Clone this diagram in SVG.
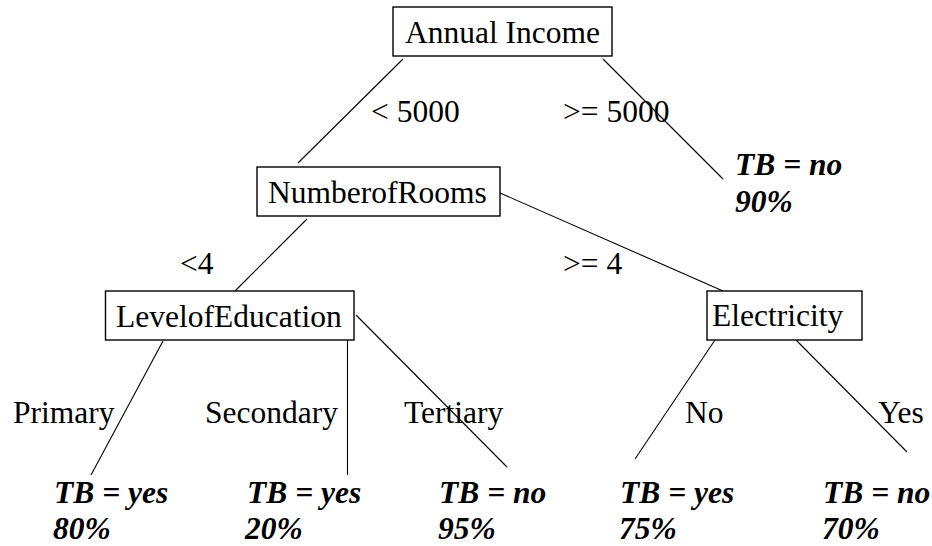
<svg xmlns="http://www.w3.org/2000/svg" width="932" height="546" viewBox="0 0 932 546">
<style>
.box{fill:#fff;stroke:#000;stroke-width:1.4}
.t{font-family:'Liberation Serif','Times New Roman',serif;font-size:31.5px;fill:#000}
.leaf{font-family:'Liberation Serif','Times New Roman',serif;font-size:31.5px;font-weight:bold;font-style:italic;fill:#000}
.edge{stroke:#000;stroke-width:1.1;fill:none}
</style>
<rect width="932" height="546" fill="#fff"/>
<g id="connectors">
<line class="edge" x1="403" y1="59" x2="298" y2="163"/>
<line class="edge" x1="603" y1="59" x2="723" y2="179"/>
<line class="edge" x1="307" y1="219" x2="235" y2="291"/>
<line class="edge" x1="500" y1="193" x2="723" y2="291"/>
<line class="edge" x1="163" y1="341" x2="91" y2="475"/>
<line class="edge" x1="347.5" y1="340" x2="347.5" y2="475"/>
<line class="edge" x1="356" y1="315" x2="507" y2="467"/>
<line class="edge" x1="715" y1="340" x2="635" y2="459"/>
<line class="edge" x1="796" y1="340" x2="907" y2="452"/>
<text class="t" x="371" y="122">&lt; 5000</text>
<text class="t" x="563" y="122">&gt;= 5000</text>
<text class="t" x="180" y="274">&lt;4</text>
<text class="t" x="563" y="274">&gt;= 4</text>
<text class="t" x="13" y="423">Primary</text>
<text class="t" x="205" y="423">Secondary</text>
<text class="t" x="404" y="423">Tertiary</text>
<text class="t" x="685" y="423">No</text>
<text class="t" x="878" y="423">Yes</text>
</g>
<g id="annual-income">
<rect class="box" x="393" y="7" width="219" height="49"/>
<text class="t" x="405" y="43">Annual Income</text>
</g>
<g id="number-of-rooms">
<rect class="box" x="257" y="167" width="243" height="49"/>
<text class="t" x="268" y="203">NumberofRooms</text>
</g>
<g id="level-of-education">
<rect class="box" x="105.5" y="291" width="248.5" height="49"/>
<text class="t" x="116" y="327">LevelofEducation</text>
</g>
<g id="electricity">
<rect class="box" x="707" y="291" width="155" height="49"/>
<text class="t" x="712" y="326">Electricity</text>
</g>
<g id="leaf-income-high">
<text class="leaf" x="735" y="175">TB = no</text>
<text class="leaf" x="735" y="212">90%</text>
</g>
<g id="leaf-primary">
<text class="leaf" x="54" y="503">TB = yes</text>
<text class="leaf" x="53" y="539">80%</text>
</g>
<g id="leaf-secondary">
<text class="leaf" x="247" y="503">TB = yes</text>
<text class="leaf" x="245" y="539">20%</text>
</g>
<g id="leaf-tertiary">
<text class="leaf" x="439" y="503">TB = no</text>
<text class="leaf" x="438" y="539">95%</text>
</g>
<g id="leaf-electricity-no">
<text class="leaf" x="620" y="503">TB = yes</text>
<text class="leaf" x="619" y="539">75%</text>
</g>
<g id="leaf-electricity-yes">
<text class="leaf" x="823" y="503">TB = no</text>
<text class="leaf" x="822" y="539">70%</text>
</g>
</svg>
